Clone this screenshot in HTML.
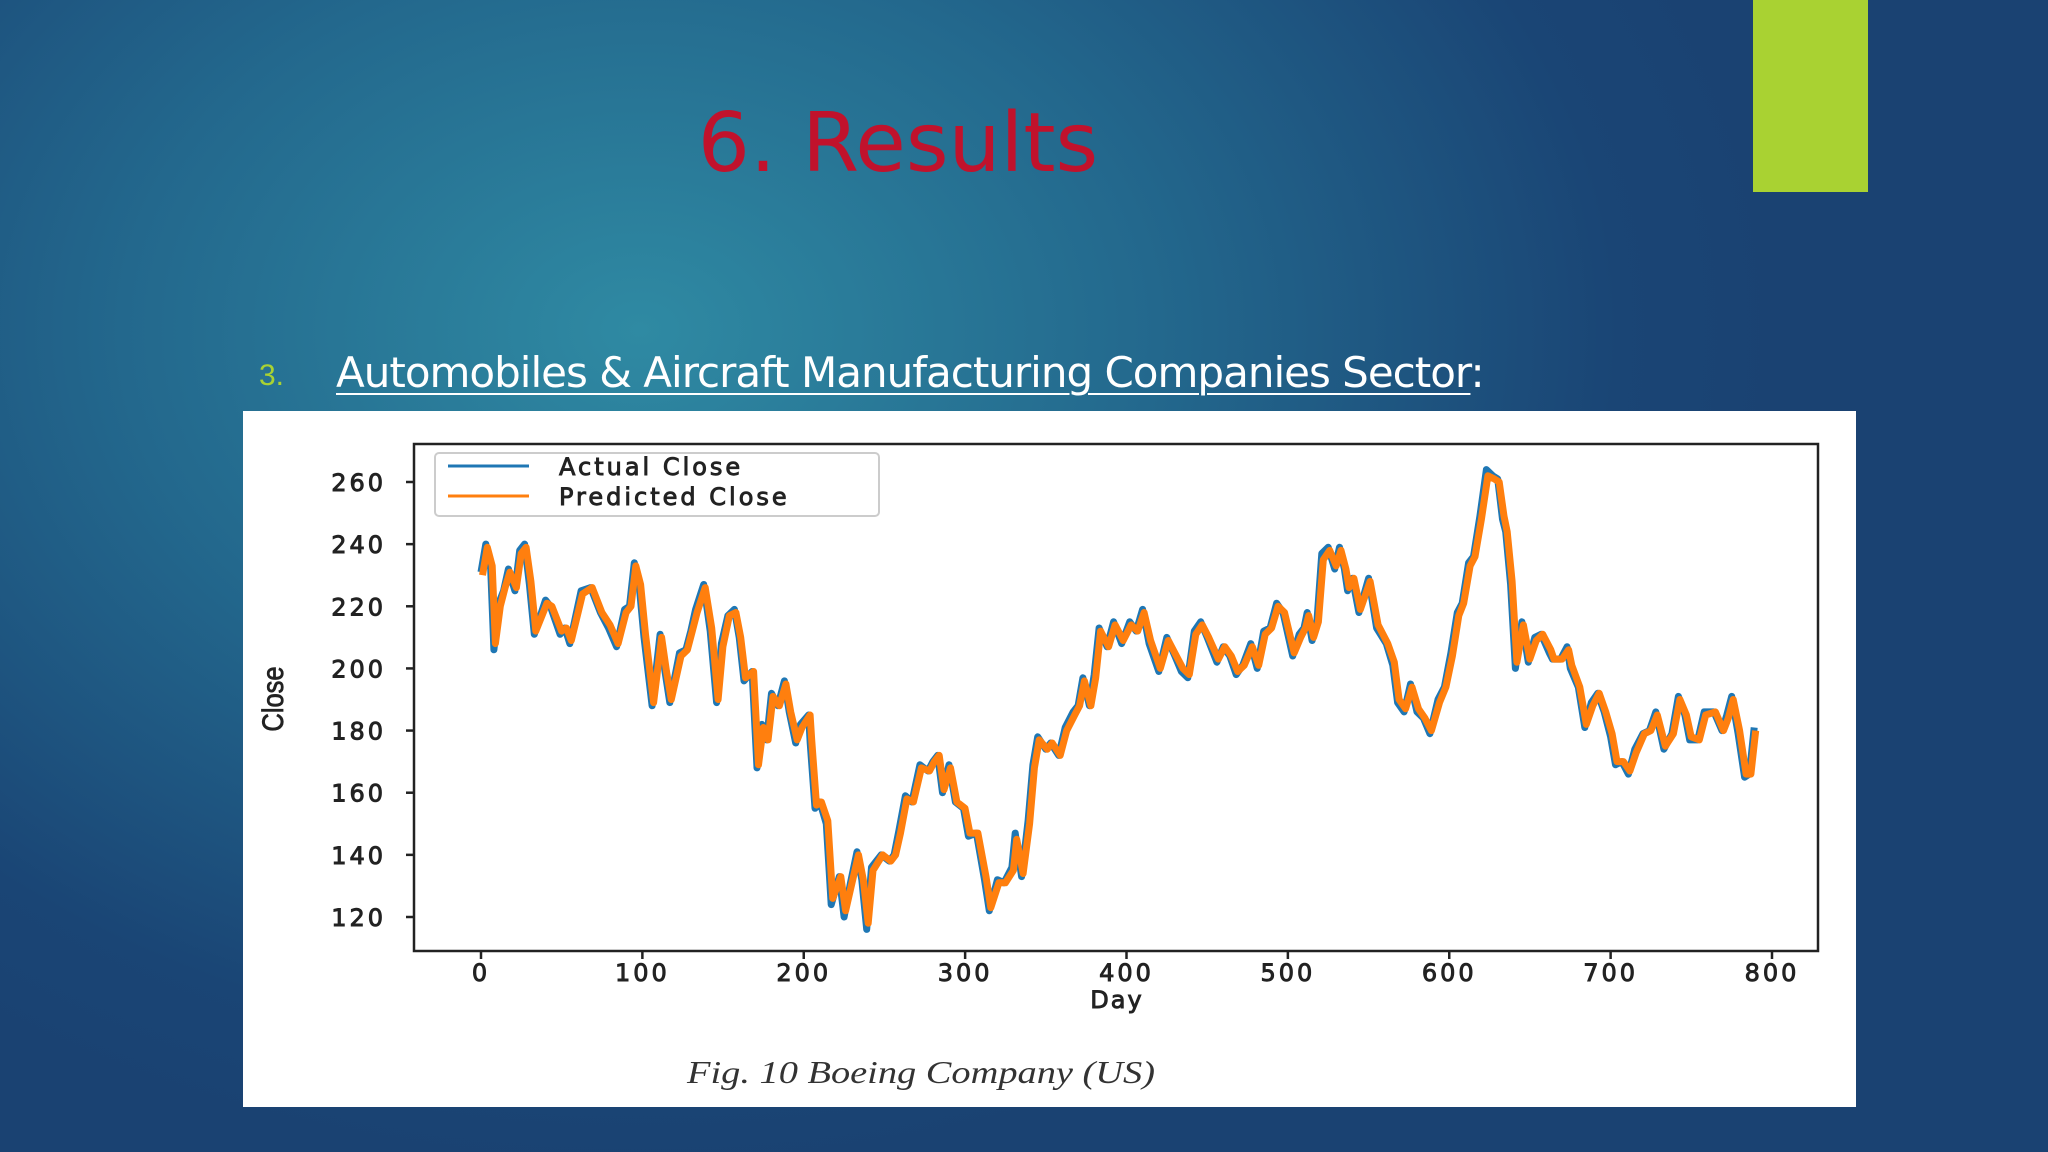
<!DOCTYPE html>
<html><head><meta charset="utf-8">
<style>
html,body{margin:0;padding:0;}
body{width:2048px;height:1152px;overflow:hidden;position:relative;
background:radial-gradient(ellipse 1150px 850px at 640px 330px,#2f8aa3 0%,#23688d 45%,#1a4575 85%,#1a4272 100%);
font-family:"Liberation Sans",sans-serif;}
#title{position:absolute;left:0;width:1796px;top:94px;text-align:center;color:#c1122c;font-size:82px;line-height:100px;font-family:"DejaVu Sans","Liberation Sans",sans-serif;}
#tab{position:absolute;left:1753px;top:0;width:115px;height:192px;background:#a9d232;}
#num{position:absolute;left:259px;top:359px;color:#a9d232;font-size:30px;}
#head{position:absolute;left:336px;top:348px;color:#fff;font-size:42px;font-family:"DejaVu Sans","Liberation Sans",sans-serif;letter-spacing:-1px;}
#head u{text-decoration-thickness:2px;text-underline-offset:6px;}
svg{position:absolute;left:0;top:0;}
</style></head><body>
<div id="tab"></div>
<div id="title">6. Results</div>
<div id="num">3.</div>
<div id="head"><u>Automobiles &amp; Aircraft Manufacturing Companies Sector</u>:</div>
<svg id="chart" width="2048" height="1152">
<rect x="243" y="411" width="1613" height="696" fill="#fff"/>
<g id="marks"></g>
<g id="axes"></g>
</svg>
<script>
const days=[0,3,6,8,11,14,17,21,24,27,30,33,40,43,49,52,55,62,68,74,79,84,89,92,95,98,101,106,111,114,117,123,127,130,133,138,142,146,149,153,157,160,163,168,171,174,177,180,184,188,191,195,198,203,204,207,210,214,217,222,225,229,233,236,239,242,248,253,256,259,263,267,272,277,280,283,286,290,294,299,302,307,312,315,320,324,329,331,335,339,342,345,350,353,358,362,367,370,373,377,380,383,388,392,397,402,406,410,414,420,425,430,434,438,442,446,450,456,460,464,468,472,477,481,485,489,493,497,503,507,510,512,515,518,521,525,529,532,535,537,540,544,550,555,561,565,568,572,576,580,584,588,593,597,601,605,608,612,615,619,623,627,630,633,635,638,641,645,649,653,657,662,664,669,673,675,680,684,688,692,696,700,703,707,711,715,720,724,728,733,738,742,746,749,754,758,764,769,772,775,779,783,786,789];
const actual=[231,240,232,206,221,225,232,225,238,240,227,211,222,220,211,213,208,225,226,218,213,207,219,220,234,227,210,188,211,199,189,205,206,212,219,227,212,189,208,217,219,210,196,199,168,182,177,192,188,196,186,176,182,185,176,155,157,150,124,133,120,131,141,132,116,136,140,138,140,148,159,157,169,167,170,172,160,169,157,155,146,147,132,122,132,131,136,147,133,151,169,178,174,176,172,181,186,188,197,188,198,213,207,215,208,215,212,219,208,199,210,204,199,197,212,215,210,202,207,204,198,201,208,200,212,213,221,218,204,211,213,218,209,215,237,239,232,239,232,225,229,218,229,213,208,201,189,186,195,186,184,179,190,194,205,218,221,234,236,249,264,262,261,248,244,227,200,215,202,210,211,205,203,203,207,200,194,181,189,192,186,178,169,170,166,174,179,180,186,174,179,191,185,177,177,186,186,180,185,191,179,165,166,181,174,175];
const predicted=[230,239,233,208,220,226,231,226,237,239,228,212,221,220,212,213,209,224,226,218,214,208,218,220,233,227,211,189,210,199,190,204,206,212,218,226,213,190,207,217,218,210,197,199,169,181,177,191,188,195,186,177,181,185,177,156,157,151,126,133,122,131,140,132,118,135,140,138,140,147,158,157,168,167,170,172,161,168,157,155,147,147,133,123,131,131,135,145,134,150,168,177,174,176,172,180,185,188,196,188,197,212,207,214,209,214,212,218,209,200,209,204,200,198,211,214,210,203,207,204,199,201,207,201,211,213,220,218,205,210,213,217,210,215,235,238,233,238,232,226,229,219,228,214,208,202,190,187,194,187,184,180,189,194,204,217,221,233,236,248,262,261,260,249,244,228,202,214,203,209,211,206,203,203,206,201,194,182,188,192,186,179,170,170,167,173,179,180,185,175,179,190,185,178,177,185,186,180,184,190,180,166,166,180,175,175];
const yTicks=[120,140,160,180,200,220,240,260];
const xTicks=[0,100,200,300,400,500,600,700,800];

const NS="http://www.w3.org/2000/svg";
const X0=414,X1=1818,Y0=444,Y1=951;
function xs(d){return 481+d*(1772-481)/800;}
function ys(v){return 482+(260-v)*(917-482)/140;}
function mk(t,a,p){const e=document.createElementNS(NS,t);for(const k in a)e.setAttribute(k,a[k]);(p||document.getElementById('axes')).appendChild(e);return e;}
const marks=document.getElementById('marks');
const TF={'font-size':24,'font-family':'DejaVu Sans, sans-serif','letter-spacing':'3',fill:'#222',stroke:'#222','stroke-width':0.9};
function tx(a){return Object.assign({},TF,a);}
let pa=days.map((d,i)=>(i?'L':'M')+xs(d).toFixed(1)+' '+ys(actual[i]).toFixed(1)).join(' ');
const la=mk('path',{d:pa,fill:'none',stroke:'#1f77b4','stroke-width':7,'stroke-linejoin':'round'},marks);


let pp=days.map((d,i)=>(i?'L':'M')+(xs(d)+1.5).toFixed(1)+' '+ys(predicted[i]).toFixed(1)).join(' ');
const lp=mk('path',{d:pp,fill:'none',stroke:'#ff7f0e','stroke-width':7,'stroke-linejoin':'round'},marks);


const fr=mk('rect',{x:X0,y:Y0,width:X1-X0,height:Y1-Y0,fill:'none',stroke:'#222','stroke-width':2.5});


yTicks.forEach(v=>{
 mk('line',{x1:X0-8,x2:X0,y1:ys(v),y2:ys(v),stroke:'#222','stroke-width':2.5});
 const t=mk('text',tx({x:X0-28,y:ys(v)+9,'text-anchor':'end'}));
 t.textContent=v;
 
 
});
xTicks.forEach(v=>{
 mk('line',{x1:xs(v),x2:xs(v),y1:Y1,y2:Y1+8,stroke:'#222','stroke-width':2.5});
 const t=mk('text',tx({x:xs(v),y:Y1+30,'text-anchor':'middle'}));
 t.textContent=v;
 
 
});
const xl=mk('text',tx({x:1117,y:1008,'text-anchor':'middle','letter-spacing':'2'}));
xl.textContent='Day';


const yl=mk('text',{x:0,y:0,'text-anchor':'middle','font-size':30,'font-family':'Liberation Sans Narrow, Liberation Sans, sans-serif',fill:'#222',stroke:'#222','stroke-width':0.8,transform:'translate(283,699) rotate(-90) scale(0.85,1)'});
yl.textContent='Close';


const lg=mk('rect',{x:435,y:453,width:444,height:63,rx:4,fill:'#fff',stroke:'#ccc','stroke-width':2});


[['Actual Close','#1f77b4',466],['Predicted Close','#ff7f0e',496]].forEach(([n,c,y])=>{
 mk('line',{x1:448,x2:529,y1:y,y2:y,stroke:c,'stroke-width':3});
 const t=mk('text',tx({x:559,y:y+9}));
 t.textContent=n;
 
 
});
const cap=mk('text',{x:0,y:0,'text-anchor':'middle','font-size':32,'font-style':'italic','font-family':'Liberation Serif, serif',fill:'#333',transform:'translate(921,1083) scale(1.2,1)'});
cap.textContent='Fig. 10 Boeing Company (US)';


</script>
</body></html>
